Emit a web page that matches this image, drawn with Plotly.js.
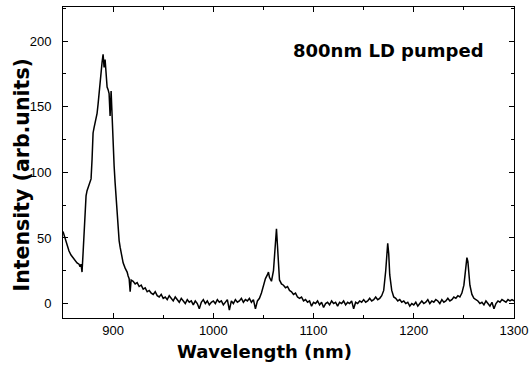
<!DOCTYPE html>
<html>
<head>
<meta charset="utf-8">
<script src="https://cdn.plot.ly/plotly-3.0.1.min.js"></script>
<style>html,body{margin:0;padding:0;background:#fff;}#chart{width:531px;height:367px;}</style>
</head>
<body>
<div id="chart"></div>
<script>
// Wavelength (nm)
const wavelength = [
  850,852,854,856,858,860,862,864,866,867,
  868,869,870,871,872,873,874,875,876,877,
  878,879,880,881,882,883,884,885,886,887,
  888,889,890,891,892,893,894,895,896,897,
  898,899,900,901,902,903,904,905,906,907,
  908,909,910,912,914,915,916,917,918,920,
  922,924,926,928,930,932,934,936,938,940,
  942,944,946,948,950,952,954,956,958,960,
  962,964,966,968,970,972,974,976,978,980,
  982,984,986,988,990,992,994,996,998,1000,
  1002,1004,1006,1008,1010,1012,1014,1016,1018,1020,
  1022,1024,1026,1028,1030,1032,1034,1036,1038,1040,
  1042,1044,1046,1048,1050,1052,1054,1055,1056,1058,
  1060,1061,1062,1063,1064,1065,1066,1068,1070,1072,
  1074,1076,1078,1080,1082,1084,1086,1088,1090,1092,
  1094,1096,1098,1100,1102,1104,1106,1108,1110,1112,
  1114,1116,1118,1120,1122,1124,1126,1128,1130,1132,
  1134,1136,1138,1140,1142,1144,1146,1148,1150,1152,
  1154,1156,1158,1160,1162,1164,1166,1168,1170,1172,
  1173,1174,1175,1176,1178,1180,1182,1184,1186,1188,
  1190,1192,1194,1196,1198,1200,1202,1204,1206,1208,
  1210,1212,1214,1216,1218,1220,1222,1224,1226,1228,
  1230,1232,1234,1236,1238,1240,1242,1244,1246,1248,
  1250,1252,1253,1254,1255,1256,1258,1260,1262,1264,
  1266,1268,1270,1272,1274,1276,1278,1280,1282,1284,
  1286,1288,1290,1292,1294,1296,1298,1300
];
// Intensity (arb. units)
const intensity = [
  55,50,44,40,37,35,33,31,30,28,
  30,24,38,55,70,82,86,88,91,93,
  95,110,130,134,137,140,145,152,160,173,
  180,184,190,180,186,172,165,163,160,143,
  162,143,117,105,92,80,70,58,48,43,
  38,34,31,27,24,21,19,9,18,17,
  15,16,13,14,11,12,9,10,8,7,
  9,6,5,7,4,5,3,6,4,2,
  5,3,1,4,2,0,3,1,2,-1,
  2,0,-4,1,3,0,2,-1,1,2,
  0,3,1,2,-1,1,3,-5,2,0,
  3,1,2,4,1,3,2,4,1,3,
  -4,2,4,8,14,19,22,24,20,17,
  25,38,50,57,44,30,18,15,14,12,
  13,10,9,7,8,5,4,5,2,3,
  1,2,-2,1,0,2,-1,1,-3,0,
  1,-1,2,0,1,-2,1,0,2,-1,
  1,0,2,-4,1,0,2,1,3,1,
  2,4,2,3,5,3,4,6,10,25,
  40,46,38,22,10,5,4,2,3,1,
  2,0,1,-2,0,-1,1,-2,0,2,
  0,1,3,0,2,1,3,2,0,3,
  1,2,4,2,3,5,4,6,5,8,
  14,28,35,32,24,14,7,4,3,2,
  0,1,-1,2,0,-2,1,-4,0,2,
  1,3,2,1,3,2,3,2
];
const xTitle = 'Wavelength (nm)';
const yTitle = 'Intensity (arb.units)';
const label = '800nm LD pumped';

const tickFont = {family: 'Liberation Sans, Arial, sans-serif', size: 13, color: '#000'};
const boldFamily = 'DejaVu Sans, Arial, sans-serif';

const data = [{
  x: wavelength, y: intensity, type: 'scatter', mode: 'lines',
  line: {color: '#000', width: 1.5}, hoverinfo: 'skip'
}];

const layout = {
  width: 531, height: 367,
  margin: {l: 63, r: 17, t: 7, b: 49, pad: 0},
  paper_bgcolor: '#fff', plot_bgcolor: '#fff',
  showlegend: false,
  xaxis: {
    range: [850, 1300], tick0: 0, dtick: 100,
    ticks: 'inside', ticklen: 5, tickwidth: 1, tickcolor: '#000',
    minor: {dtick: 50, ticks: 'inside', ticklen: 3, tickcolor: '#000', showgrid: false},
    showline: true, linecolor: '#000', linewidth: 1, mirror: 'allticks',
    showgrid: false, zeroline: false, tickfont: tickFont
  },
  yaxis: {
    range: [-11, 226], tick0: 0, dtick: 50,
    ticks: 'inside', ticklen: 5, tickwidth: 1, tickcolor: '#000',
    minor: {dtick: 25, ticks: 'inside', ticklen: 3, tickcolor: '#000', showgrid: false},
    showline: true, linecolor: '#000', linewidth: 1, mirror: 'allticks',
    showgrid: false, zeroline: false, tickfont: tickFont, ticklabelstandoff: 8
  },
  annotations: [
    {
      x: 1175, y: 193, xref: 'x', yref: 'y', showarrow: false,
      text: '<b>' + label + '</b>',
      font: {family: boldFamily, size: 18, color: '#000'}
    },
    {
      x: 0.4457, y: -0.109, xref: 'paper', yref: 'paper', showarrow: false,
      xanchor: 'center', yanchor: 'middle',
      text: '<b>' + xTitle + '</b>',
      font: {family: boldFamily, size: 18, color: '#000'}
    },
    {
      x: -0.092, y: 0.46, xref: 'paper', yref: 'paper', showarrow: false,
      xanchor: 'center', yanchor: 'middle', textangle: -90,
      text: '<b>' + yTitle + '</b>',
      font: {family: boldFamily, size: 20.5, color: '#000'}
    }
  ]
};

Plotly.newPlot('chart', data, layout, {displayModeBar: false, staticPlot: true});
</script>
</body>
</html>
